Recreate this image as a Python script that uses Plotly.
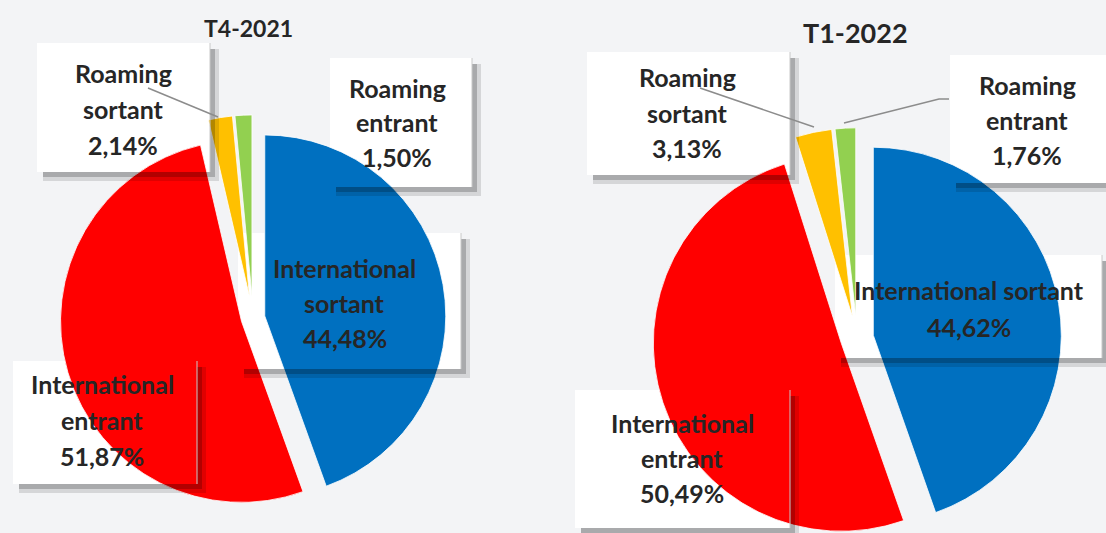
import plotly.graph_objects as go

# ---- data ----
categories = ["International sortant", "International entrant", "Roaming sortant", "Roaming entrant"]
t4_2021 = [44.48, 51.87, 2.14, 1.50]
t1_2022 = [44.62, 50.49, 3.13, 1.76]
titles = ["T4-2021", "T1-2022"]
colors = ["#0070C0", "#FF0000", "#FFC000", "#92D050"]

W, H = 1106, 560  # figure is a little taller than the 533px window; the bottom is clipped


def px(x):
    return x / W


def py(y):
    return 1 - y / H


def fmt(v):
    return f"{v:.2f}".replace(".", ",") + "%"


fig = go.Figure()

# pie geometry (pixels): center, radius, pulls
pies = [
    dict(vals=t4_2021, cx=253, cy=318, r=181, pull=[0.066, 0.066, 0.122, 0.122]),
    dict(vals=t1_2022, cx=857, cy=338, r=188, pull=[0.088, 0.088, 0.118, 0.118]),
]
for p in pies:
    half = p["r"] * (1 + max(p["pull"]))
    x0, x1 = p["cx"] - half, p["cx"] + half
    y0, y1 = p["cy"] - half, p["cy"] + half
    dom_y = [max(0, py(y1)), min(1, py(y0))]
    fig.add_trace(go.Pie(
        labels=categories, values=p["vals"], sort=False, direction="clockwise",
        rotation=0, pull=p["pull"], textinfo="none", hoverinfo="label+percent",
        marker=dict(colors=colors, line=dict(color="white", width=0.8)),
        domain=dict(x=[px(x0), px(x1)], y=dom_y), showlegend=False,
    ))

shapes = []
annotations = []

# label boxes (pixels): left, top, right, bottom
boxes = [
    (37, 43, 210, 172), (330, 58, 472, 187), (238, 233, 461, 369), (13, 361, 197, 484),
    (587, 52, 790, 175), (950, 55, 1115, 183), (835, 255, 1102, 358), (575, 390, 790, 528),
]
for (l, t, r, b) in boxes:
    shapes.append(dict(type="rect", xref="paper", yref="paper", layer="below",
                       x0=px(l), x1=px(r), y0=py(b), y1=py(t),
                       fillcolor="white", line=dict(width=0)))
    # shadow bands
    for (w0, w1, op) in [(0, 5, 0.30), (5, 9, 0.12)]:
        shapes.append(dict(type="rect", xref="paper", yref="paper", layer="above",
                           x0=px(r + w0), x1=px(r + w1), y0=py(b + w1), y1=py(t + 6),
                           fillcolor=f"rgba(0,0,0,{op})", line=dict(width=0)))
        shapes.append(dict(type="rect", xref="paper", yref="paper", layer="above",
                           x0=px(l + 6), x1=px(r + w0), y0=py(b + w1), y1=py(b + w0),
                           fillcolor=f"rgba(0,0,0,{op})", line=dict(width=0)))
    shapes.append(dict(type="line", xref="paper", yref="paper", layer="above",
                       x0=px(r), x1=px(r), y0=py(b), y1=py(t),
                       line=dict(color="#c8c8c8", width=1)))

# leader lines
leaders = [
    [(148, 88), (218, 117)],
    [(700, 88), (814, 127)],
    [(844, 123), (939, 99), (949, 99)],
]
for pts in leaders:
    path = "M " + " L ".join(f"{px(x)},{py(y)}" for x, y in pts)
    shapes.append(dict(type="path", xref="paper", yref="paper", layer="above", path=path,
                       line=dict(color="#8c8c8c", width=1.5)))

FONT = "Lato"
TXT = "#262626"


def add_text(x, y, s, size=25):
    annotations.append(dict(x=px(x), y=py(y), xref="paper", yref="paper", text=f"<b>{s}</b>",
                            showarrow=False, xanchor="center", yanchor="middle",
                            font=dict(family=FONT, size=size, color=TXT)))


# titles
add_text(248, 28, titles[0], 23)
add_text(855, 32, titles[1], 27)

# left pie labels
add_text(123, 73, "Roaming"); add_text(123, 109, "sortant"); add_text(123, 145, fmt(t4_2021[2]))
add_text(397, 88, "Roaming"); add_text(397, 122, "entrant"); add_text(397, 157, fmt(t4_2021[3]))
add_text(345, 268, "International"); add_text(345, 303, "sortant"); add_text(345, 338, fmt(t4_2021[0]))
add_text(102, 384, "International"); add_text(102, 420, "entrant"); add_text(102, 456, fmt(t4_2021[1]))

# right pie labels
add_text(687, 77, "Roaming"); add_text(687, 113, "sortant"); add_text(687, 148, fmt(t1_2022[2]))
add_text(1027, 85, "Roaming"); add_text(1027, 120, "entrant"); add_text(1027, 155, fmt(t1_2022[3]))
add_text(969, 290, "International sortant"); add_text(969, 327, fmt(t1_2022[0]))
add_text(682, 423, "International"); add_text(682, 458, "entrant"); add_text(682, 493, fmt(t1_2022[1]))

fig.update_layout(
    width=W, height=H, margin=dict(l=0, r=0, t=0, b=0),
    paper_bgcolor="#f3f4f6", plot_bgcolor="#f3f4f6",
    shapes=shapes, annotations=annotations, showlegend=False,
)

fig.write_html(
    "out.html",
    config={"displayModeBar": False},
    post_script="document.body.style.margin='0';document.body.style.overflow='hidden';",
)
